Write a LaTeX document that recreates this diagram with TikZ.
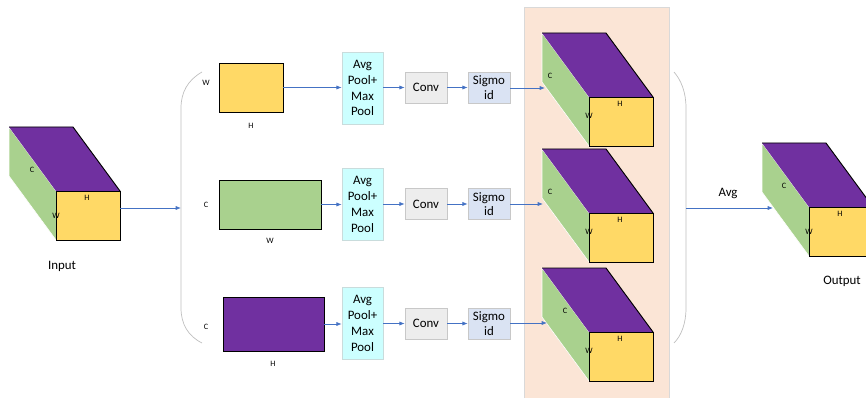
\documentclass[tikz,border=0pt]{standalone}
\usepackage{fontspec}
\setmainfont{Carlito}
\usetikzlibrary{arrows.meta}

\definecolor{featpurple}{HTML}{7030A0}
\definecolor{featyellow}{HTML}{FFD966}
\definecolor{featgreen}{HTML}{A9D18E}
\definecolor{poolfill}{HTML}{CCFFFF}
\definecolor{poolline}{HTML}{C9DCDC}
\definecolor{convfill}{HTML}{EDEDED}
\definecolor{sigfill}{HTML}{DAE3F3}
\definecolor{boxline}{HTML}{C8C8C8}
\definecolor{panelfill}{HTML}{FBE5D6}
\definecolor{panelline}{HTML}{D9D9D9}
\definecolor{flowblue}{HTML}{4472C4}

% feature cube: name, front face corner x, y, shift of C, shift of W
\newcommand{\cuboid}[5]{
    \fill[featgreen] (#2,#3) -- ++(-47,-64) -- ++(0,49) -- ++(47,64) -- cycle;
    \draw[white, line width=0.5pt] (#2,#3) -- ++(-47,-64) -- ++(0,49) -- ++(47,64);
    \fill[featpurple] (#2,#3) -- ++(-47,-64) -- ++(64,0) -- ++(47,64) -- cycle;
    \draw[line width=0.8pt] (#2,#3) ++(-47,-64) -- ++(64,0) -- ++(47,64);
    \node[frontface] (#1) at (#2,#3) {};
    \node[dimlabel] (#1c) at ([shift={(#4,-21)}]#1.north west) {C};
    \node[dimlabel] (#1h) at ([shift={(31,7)}]#1.north west) {H};
    \node[dimlabel] (#1w) at ([shift={(0,#5)}]#1.north west) {W};
}

\begin{document}
\begin{tikzpicture}[x=0.03cm, y=-0.03cm,
    frontface/.style={draw=black, line width=0.8pt, fill=featyellow, anchor=north west,
        minimum width=1.92cm, minimum height=1.47cm, inner sep=0pt, outer sep=0pt},
    flat/.style={draw=black, line width=0.8pt, inner sep=0pt},
    pool/.style={draw=poolline, fill=poolfill, minimum width=1.23cm, minimum height=2.16cm,
        inner sep=0pt, align=center, font=\fontsize{11}{13.6}\selectfont},
    conv/.style={draw=boxline, fill=convfill, minimum width=1.26cm, minimum height=0.93cm,
        inner sep=0pt, font=\fontsize{11}{13.6}\selectfont},
    sigm/.style={draw=boxline, fill=sigfill, minimum width=1.26cm, minimum height=0.93cm,
        inner sep=0pt, align=center, font=\fontsize{11}{12.5}\selectfont},
    dimlabel/.style={inner sep=0pt, font=\fontsize{7}{8}\selectfont},
    caption/.style={inner sep=0pt, font=\fontsize{11}{13}\selectfont},
    flow/.style={draw=flowblue, line width=0.6pt, -{Latex[length=4.5pt,width=3.5pt]}},
    bracket/.style={draw=black!25, line width=0.6pt}]

    \clip (0,0) rectangle (866,398);
    \useasboundingbox (0,0) rectangle (866,398);

    % panel behind the weighted cubes
    \draw[fill=panelfill, draw=panelline] (524,7) rectangle (669,402);

    % brackets
    \draw[bracket] (202,72) .. controls (188,80) and (181,92) .. (181,108) -- (181,308)
        .. controls (181,324) and (188,336) .. (202,343);
    \draw[bracket] (674,72) .. controls (681,80) and (686,92) .. (686,108) -- (686,308)
        .. controls (686,324) and (681,336) .. (674,343);
    \coordinate (brl) at (181,208);
    \coordinate (brr) at (686,208);

    % input and output
    \cuboid{cin}{56}{191}{-24}{25}
    \node[caption] (lin) at (62,266) {Input};
    \cuboid{cout}{809}{207}{-25}{25}
    \node[caption] (lout) at (842,281) {Output};
    \node[caption] (lavg) at (728,193) {Avg};

    % pooled maps
    \node[flat, fill=featyellow, minimum width=1.92cm, minimum height=1.47cm] (hw) at (251,87.5) {};
    \node[flat, fill=featgreen, minimum width=3.06cm, minimum height=1.47cm] (cw) at (270,204.5) {};
    \node[flat, fill=featpurple, minimum width=3.03cm, minimum height=1.62cm] (ch) at (273.5,324) {};
    \node[dimlabel] (lw1) at (206,83) {W};
    \node[dimlabel] (lh1) at (251,126) {H};
    \node[dimlabel] (lc2) at (206,205) {C};
    \node[dimlabel] (lw2) at (270,241) {W};
    \node[dimlabel] (lc3) at (206,327) {C};
    \node[dimlabel] (lh3) at (273,364) {H};

    \node[pool] (pool1) at (362.5,88) {Avg\\Pool+\\Max\\Pool};
    \node[pool] (pool2) at (362.5,204.5) {Avg\\Pool+\\Max\\Pool};
    \node[pool] (pool3) at (362.5,323.5) {Avg\\Pool+\\Max\\Pool};

    \node[conv] (conv1) at (426,87.5) {Conv};
    \node[conv] (conv2) at (426,204) {Conv};
    \node[conv] (conv3) at (426,323.5) {Conv};

    \node[sigm] (sig1) at (489,87.5) {Sigmo\\id};
    \node[sigm] (sig2) at (489,204) {Sigmo\\id};
    \node[sigm] (sig3) at (489,323.5) {Sigmo\\id};

    % weighted cubes
    \cuboid{w1}{589}{97}{-39}{19}
    \cuboid{w2}{589}{213}{-39}{19}
    \cuboid{w3}{589}{332}{-24}{19}
    \coordinate (t1) at (545,88);
    \coordinate (t2) at (543,204);
    \coordinate (t3) at (547,323);
    \coordinate (tout) at (773,208);

    % connectors
    \draw[flow] (cin.east |- brl) -- (brl);
    \draw[flow] (hw.east) -- (hw.east -| pool1.west);
    \draw[flow] (cw.east) -- (cw.east -| pool2.west);
    \draw[flow] (ch.east) -- (ch.east -| pool3.west);
    \draw[flow] (pool1.east |- conv1) -- (conv1.west);
    \draw[flow] (pool2.east |- conv2) -- (conv2.west);
    \draw[flow] (pool3.east |- conv3) -- (conv3.west);
    \draw[flow] (conv1.east |- sig1) -- (sig1.west);
    \draw[flow] (conv2.east |- sig2) -- (sig2.west);
    \draw[flow] (conv3.east |- sig3) -- (sig3.west);
    \draw[flow] (sig1.east |- t1) -- (t1);
    \draw[flow] (sig2.east |- t2) -- (t2);
    \draw[flow] (sig3.east |- t3) -- (t3);
    \draw[flow] (brr) -- (tout);

\end{tikzpicture}
\end{document}
